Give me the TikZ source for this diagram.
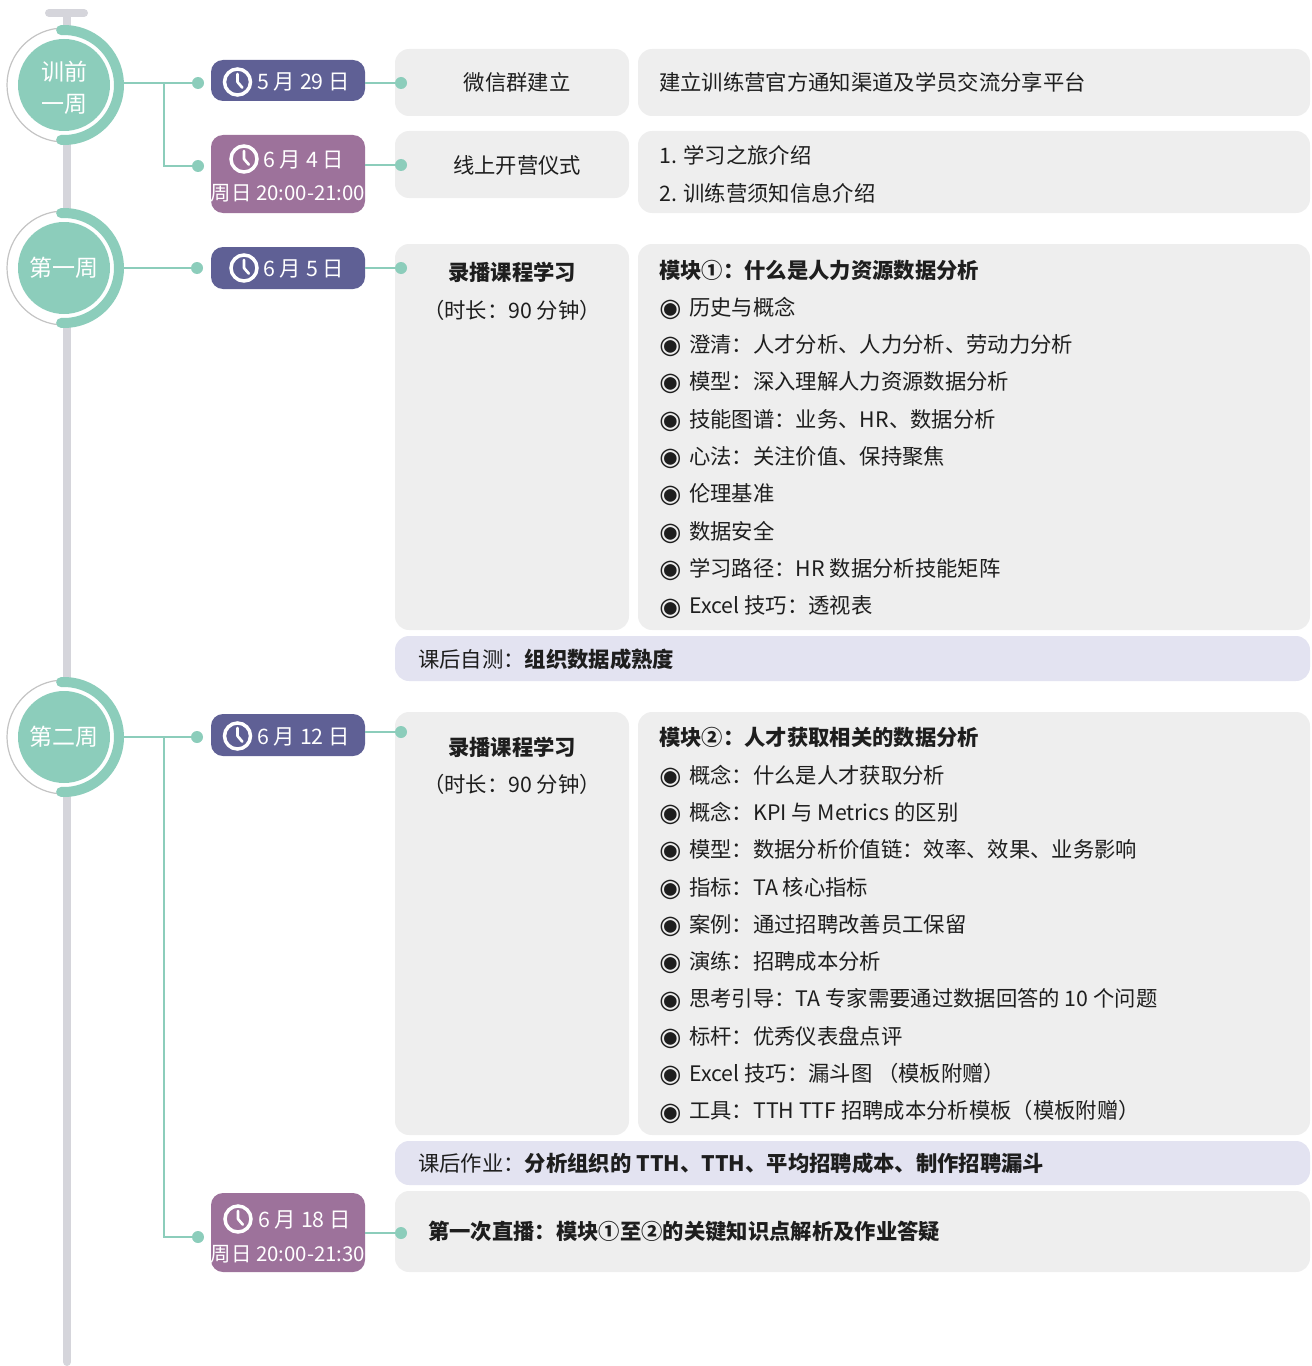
\documentclass[tikz,border=0pt]{standalone}
\usepackage{fontspec}
\setmainfont{Noto Sans CJK SC}
\newfontfamily\symfont{DejaVu Sans}
\usetikzlibrary{fit}
\definecolor{teal1}{HTML}{8CCDBB}
\definecolor{pillA}{HTML}{5F6095}
\definecolor{pillB}{HTML}{9D729B}
\definecolor{boxg}{HTML}{EEEEEE}
\definecolor{lav}{HTML}{E3E3F1}
\definecolor{tlc}{HTML}{D5D5DB}
\definecolor{ringc}{HTML}{C4C4C4}
\definecolor{txtc}{HTML}{1E1E1E}
\newcommand\mainsize{\fontsize{16pt}{20pt}\selectfont}
\newcommand\timesize{\fontsize{15.3pt}{20pt}\selectfont}
\newcommand\wksize{\fontsize{17.25pt}{24pt}\selectfont}
\newcommand\bul{\makebox[22.5pt][l]{\raisebox{-0.9pt}{\symfont\fontsize{19pt}{19pt}\selectfont ◉}}}
\newcommand\clockat[1]{%
  \draw[white, line width=2.6pt] (#1) circle[radius=9.75pt];
  \draw[white, line width=2pt, line cap=round, line join=round] ([yshift=6pt]#1) -- (#1) -- ([shift={(3.6pt,-4.2pt)}]#1);}
\begin{document}
\begin{tikzpicture}[x=0.75pt,y=-0.75pt,
  txt/.style={font=\mainsize, text=txtc, inner sep=0pt},
  itm/.style={txt, anchor=base west},
  ctr/.style={txt, anchor=base},
  graybox/.style={fill=boxg, rounded corners=10.5pt, inner sep=0pt},
  lavbox/.style={fill=lav, rounded corners=10.5pt, inner sep=0pt},
  pill/.style={rounded corners=9pt, inner sep=0pt},
  pilltxt/.style={font=\mainsize, text=white, inner sep=0pt, anchor=base west},
  dot/.style={circle, fill=teal1, minimum size=9pt, inner sep=0pt},
  conn/.style={draw=teal1, line width=1.4pt},
  week/.style={circle, minimum size=85.5pt, draw=ringc, line width=0.9pt, fill=white, inner sep=0pt, text=white, font=\wksize, align=center,
    path picture={\fill[teal1] (path picture bounding box.center) circle[radius=34.5pt];}},
  warc/.style={draw=teal1, line width=7.5pt, line cap=round}]
\useasboundingbox (0,0) rectangle (1311,1366);
% timeline
\draw[tlc, line width=6pt, line cap=round] (49,13) -- (84,13);
\draw[tlc, line width=6pt, line cap=round] (67,13) -- (67,1362);
% boxes
\node[graybox, fit={(395,49) (629,116)}] (a1) {};
\node[graybox, fit={(638,49) (1310,116)}] (b1) {};
\node[graybox, fit={(395,131) (629,198)}] (a2) {};
\node[graybox, fit={(638,131) (1310,213)}] (b2) {};
\node[graybox, fit={(395,244) (629,630)}] (a3) {};
\node[graybox, fit={(638,244) (1310,630)}] (b3) {};
\node[lavbox, fit={(395,636) (1310,681)}] (t3) {};
\node[graybox, fit={(395,712) (629,1135)}] (a4) {};
\node[graybox, fit={(638,712) (1310,1135)}] (b4) {};
\node[lavbox, fit={(395,1141) (1310,1185)}] (t4) {};
\node[graybox, fit={(395,1191) (1310,1272)}] (a5) {};
% pills
\node[pill, fill=pillA, fit={(211,60) (365,101)}] (p1) {};
\node[pill, fill=pillB, fit={(211,135) (365,213)}] (p2) {};
\node[pill, fill=pillA, fit={(211,247) (365,289)}] (p3) {};
\node[pill, fill=pillA, fit={(211,714) (365,756)}] (p4) {};
\node[pill, fill=pillB, fit={(211,1193) (365,1272)}] (p5) {};
\coordinate (ck1) at (237.5,82);
\coordinate (ck2) at (244,159);
\coordinate (ck3) at (244,268);
\coordinate (ck4) at (237.5,736);
\coordinate (ck5) at (238,1219);
\clockat{ck1}\clockat{ck2}\clockat{ck3}\clockat{ck4}\clockat{ck5}
\node[pilltxt] (pt1) at (257,90) {5 月 29 日};
\node[pilltxt] (pt2) at (263,167) {6 月 4 日};
\node[font=\timesize, text=white, inner sep=0pt, anchor=base] (pt2b) at (288,200) {周日 20:00-21:00};
\node[pilltxt] (pt3) at (263,276) {6 月 5 日};
\node[pilltxt] (pt4) at (257,744) {6 月 12 日};
\node[pilltxt] (pt5) at (258,1227) {6 月 18 日};
\node[font=\timesize, text=white, inner sep=0pt, anchor=base] (pt5b) at (288,1261) {周日 20:00-21:30};
% dots
\node[dot] (dL1) at (198,83) {};
\node[dot] (dL2) at (198,166) {};
\node[dot] (dL3) at (197,268) {};
\node[dot] (dL4) at (197,737) {};
\node[dot] (dL5) at (198,1237) {};
\node[dot] (dR1) at (401,83) {};
\node[dot] (dR2) at (401,165) {};
\node[dot] (dR3) at (401,268) {};
\node[dot] (dR4) at (401,732) {};
\node[dot] (dR5) at (401,1233) {};
% week circles
\node[week] (w0) at (64,85) {};
\node[text=white, font=\wksize, align=center, inner sep=0pt] (w0t) at (64,88) {训前\\一周};
\node[week] (w1) at (64,268) {第一周};
\node[week] (w2) at (64,737) {第二周};
\draw[warc] ([shift={(93:41.25pt)}]w0.center) arc[start angle=93, end angle=-93, radius=41.25pt];
\draw[warc] ([shift={(93:41.25pt)}]w1.center) arc[start angle=93, end angle=-93, radius=41.25pt];
\draw[warc] ([shift={(93:41.25pt)}]w2.center) arc[start angle=93, end angle=-93, radius=41.25pt];
% connectors
\coordinate (br0) at (164,83);
\coordinate (br2) at (164,737);
\draw[conn] (w0.east |- dL1) -- (dL1);
\draw[conn] (br0) |- (dL2);
\draw[conn] (w1.east |- dL3) -- (dL3);
\draw[conn] (w2.east |- dL4) -- (dL4);
\draw[conn] (br2) |- (dL5);
\draw[conn] (p1.east |- dR1) -- (dR1);
\draw[conn] (p2.east |- dR2) -- (dR2);
\draw[conn] (p3.east |- dR3) -- (dR3);
\draw[conn] (p4.east |- dR4) -- (dR4);
\draw[conn] (p5.east |- dR5) -- (dR5);
% texts row 1-2
\node[ctr] (x1) at (517,91) {微信群建立};
\node[itm] (y1) at (659,91) {建立训练营官方通知渠道及学员交流分享平台};
\node[ctr] (x2) at (517,173) {线上开营仪式};
\node[itm] (y2a) at (659,163) {1. 学习之旅介绍};
\node[itm] (y2b) at (659,201) {2. 训练营须知信息介绍};
% week 1
\node[ctr, font=\mainsize\bfseries] (x3) at (512,280) {录播课程学习};
\node[ctr] (x3b) at (512,318) {（时长：90 分钟）};
\node[itm, font=\mainsize\bfseries] (h3) at (659,278) {模块①：什么是人力资源数据分析};
\foreach \t [count=\i] in {历史与概念, 澄清：人才分析、人力分析、劳动力分析, 模型：深入理解人力资源数据分析, 技能图谱：业务、HR、数据分析, 心法：关注价值、保持聚焦, 伦理基准, 数据安全, 学习路径：HR 数据分析技能矩阵, Excel 技巧：透视表}
  \node[itm] (u\i) at (659,{315+(\i-1)*37.35}) {\bul\t};
\node[itm] (s3) at (418,667) {课后自测：\textbf{组织数据成熟度}};
% week 2
\node[ctr, font=\mainsize\bfseries] (x4) at (512,755) {录播课程学习};
\node[ctr] (x4b) at (512,792) {（时长：90 分钟）};
\node[itm, font=\mainsize\bfseries] (h4) at (659,745) {模块②：人才获取相关的数据分析};
\foreach \t [count=\i] in {概念：什么是人才获取分析, 概念：KPI 与 Metrics 的区别, 模型：数据分析价值链：效率、效果、业务影响, 指标：TA 核心指标, 案例：通过招聘改善员工保留, 演练：招聘成本分析, 思考引导：TA 专家需要通过数据回答的 10 个问题, 标杆：优秀仪表盘点评, Excel 技巧：漏斗图 （模板附赠）, 工具：TTH TTF 招聘成本分析模板（模板附赠）}
  \node[itm] (v\i) at (659,{783+(\i-1)*37.33}) {\bul\t};
\node[itm] (s4) at (418,1171) {课后作业：\textbf{分析组织的 TTH、TTH、平均招聘成本、制作招聘漏斗}};
\node[itm, font=\mainsize\bfseries] (s5) at (428,1239) {第一次直播：模块①至②的关键知识点解析及作业答疑};
\end{tikzpicture}
\end{document}
